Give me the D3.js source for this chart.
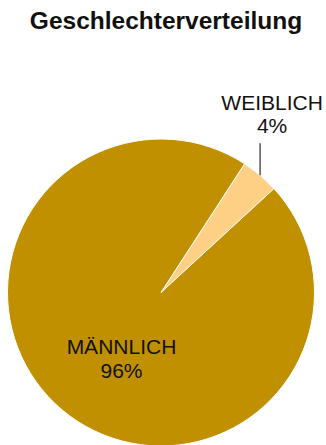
<!DOCTYPE html>
<html>
<head>
<meta charset="utf-8">
<script src="https://cdn.jsdelivr.net/npm/d3@7"></script>
<style>
  html, body { margin: 0; padding: 0; background: #fff; }
  svg { display: block; font-family: "Liberation Sans", Arial, sans-serif; }
</style>
</head>
<body>
<svg id="chart" width="326" height="445"></svg>
<script>
// Gender distribution
const categories = ["WEIBLICH", "MÄNNLICH"];
const values = [4, 96];
const colors = ["#FDD086", "#C09000"];

const width = 326, height = 445;
const cx = 161, cy = 292.5, radius = 153.5;

const svg = d3.select("#chart");

svg.append("text")
  .attr("x", width / 2 + 3)
  .attr("y", 29)
  .attr("text-anchor", "middle")
  .attr("font-size", 24.5)
  .attr("font-weight", "bold")
  .attr("fill", "#111")
  .text("Geschlechterverteilung");

const data = categories.map((c, i) => ({ name: c, value: values[i], color: colors[i] }));

const pie = d3.pie()
  .value(d => d.value)
  .sort(null)
  .startAngle(33 * Math.PI / 180)
  .endAngle(33 * Math.PI / 180 + 2 * Math.PI);

const arcs = pie(data);
const arc = d3.arc().innerRadius(0).outerRadius(radius);

const g = svg.append("g").attr("transform", `translate(${cx},${cy})`);

g.selectAll("path")
  .data(arcs)
  .join("path")
  .attr("d", arc)
  .attr("fill", d => d.data.color)
  .attr("stroke", "#fff")
  .attr("stroke-width", 1);

const total = d3.sum(values);
const pct = d => Math.round(d.data.value / total * 100) + "%";

// Small slice: label outside with a vertical leader line
const small = arcs[0];
const midA = (small.startAngle + small.endAngle) / 2;
const ex = radius * Math.sin(midA), ey = -radius * Math.cos(midA);
const lineTop = ey - 32;
g.append("line")
  .attr("x1", ex).attr("y1", ey)
  .attr("x2", ex).attr("y2", lineTop)
  .attr("stroke", "#000")
  .attr("stroke-width", 1);

const outLabel = g.append("text")
  .attr("text-anchor", "middle")
  .attr("font-size", 21)
  .attr("fill", "#111");
outLabel.append("tspan").attr("x", ex + 12).attr("y", lineTop - 33).text(small.data.name);
outLabel.append("tspan").attr("x", ex + 12).attr("y", lineTop - 10).text(pct(small));

// Large slice: label inside
const big = arcs[1];
const bigMid = (big.startAngle + big.endAngle) / 2;
const lr = radius * 0.5;
const lx = lr * Math.sin(bigMid) + 10, ly = -lr * Math.cos(bigMid);
const inLabel = g.append("text")
  .attr("text-anchor", "middle")
  .attr("font-size", 21)
  .attr("fill", "#111");
inLabel.append("tspan").attr("x", lx).attr("y", ly + 3).text(big.data.name);
inLabel.append("tspan").attr("x", lx).attr("y", ly + 27).text(pct(big));
</script>
</body>
</html>
